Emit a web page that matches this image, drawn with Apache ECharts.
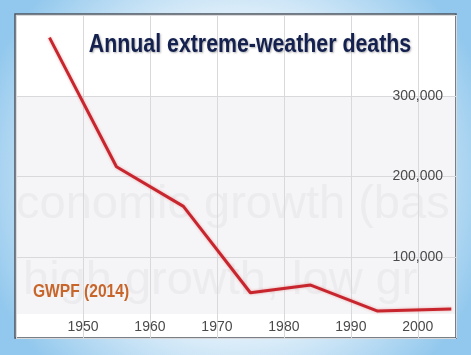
<!DOCTYPE html>
<html>
<head>
<meta charset="utf-8">
<script src="https://cdn.jsdelivr.net/npm/echarts@6/dist/echarts.min.js"></script>
<style>
html,body{margin:0;padding:0;background:#fff;}
#chart{width:471px;height:355px;}
</style>
</head>
<body>
<div id="chart"></div>
<script>
// Data
var years = [1945, 1955, 1965, 1975, 1984, 1994, 2005];
var deaths = [372000, 212000, 163000, 56000, 65600, 33400, 35900];
var xTickLabels = ['1950', '1960', '1970', '1980', '1990', '2000'];
var yTickLabels = ['100,000', '200,000', '300,000'];
var titleText = 'Annual extreme-weather deaths';
var sourceText = 'GWPF (2014)';
var ghostLine1 = 'conomic growth (base';
var ghostLine2 = 'high growth, low grow';

var chart = echarts.init(document.getElementById('chart'), null, {renderer: 'canvas'});

var seriesData = years.map(function (y, i) { return [y, deaths[i]]; });

var sans = "'Liberation Sans', Arial, sans-serif";

var option = {
  animation: false,
  backgroundColor: '#ffffff',
  graphic: [
    {
      type: 'rect', z: -100,
      shape: {x: 0, y: 0, width: 471, height: 355},
      style: {
        fill: {
          type: 'radial', x: 0.5, y: 0.5, r: 0.75,
          colorStops: [
            {offset: 0, color: '#ffffff'},
            {offset: 0.55, color: '#e8f3fb'},
            {offset: 1, color: '#92c8ed'}
          ]
        }
      }
    },
    {
      type: 'rect', z: -90,
      shape: {x: 15, y: 14, width: 441, height: 324},
      style: {fill: '#ffffff', stroke: '#4d5560', lineWidth: 1.5}
    },
    {
      type: 'rect', z: -80,
      shape: {x: 16, y: 96, width: 439, height: 218},
      style: {fill: '#f5f5f7'}
    },
    {
      type: 'text', z: -70, x: 16, y: 182,
      style: {
        text: ghostLine1, fill: '#ececef', font: '47px ' + sans,
        textAlign: 'left', textVerticalAlign: 'alphabetic',
        width: 439, overflow: 'truncate', ellipsis: ''
      }
    },
    {
      type: 'text', z: -70, x: 23, y: 258,
      style: {
        text: ghostLine2, fill: '#ececef', font: '47px ' + sans,
        textAlign: 'left', textVerticalAlign: 'alphabetic',
        width: 432, overflow: 'truncate', ellipsis: ''
      }
    },
    {
      type: 'text', z: 10, x: 250, y: 45, scaleX: 0.82,
      style: {
        text: titleText, fill: '#14214f', font: 'bold 26px ' + sans,
        textAlign: 'center', textVerticalAlign: 'middle',
        textShadowColor: 'rgba(0,0,0,0.3)', textShadowBlur: 2,
        textShadowOffsetX: 1, textShadowOffsetY: 1
      }
    },
    {
      type: 'text', z: 10, x: 33, y: 292, scaleX: 0.82,
      style: {
        text: sourceText, fill: '#c8652b', font: 'bold 19px ' + sans,
        textAlign: 'left', textVerticalAlign: 'middle'
      }
    }
  ],
  grid: {left: 16, right: 15, top: 15, bottom: 17, containLabel: false},
  xAxis: {
    type: 'value',
    min: 1940, max: 2005.7, interval: 10,
    axisLine: {show: false},
    axisTick: {show: false},
    splitLine: {show: true, lineStyle: {color: '#d9d9dc', width: 1}},
    axisLabel: {
      inside: true, margin: 4,
      showMinLabel: false, showMaxLabel: false,
      color: '#4a4a4a', fontSize: 14, fontFamily: sans,
      formatter: function (v) {
        var s = String(Math.round(v));
        return xTickLabels.indexOf(s) >= 0 ? s : '';
      }
    }
  },
  yAxis: {
    type: 'value',
    position: 'right',
    min: 0, max: 400000, interval: 100000,
    axisLine: {show: false},
    axisTick: {show: false},
    splitLine: {show: true, lineStyle: {color: '#d9d9dc', width: 1}},
    axisLabel: {
      inside: true, margin: 13,
      showMinLabel: false, showMaxLabel: false,
      color: '#4a4a4a', fontSize: 14, fontFamily: sans,
      formatter: function (v) {
        var idx = Math.round(v / 100000) - 1;
        return yTickLabels[idx] || '';
      }
    }
  },
  series: [{
    type: 'line',
    data: seriesData,
    symbol: 'none',
    smooth: false,
    z: 5,
    lineStyle: {
      color: '#c8262e', width: 3,
      shadowColor: 'rgba(220,60,60,0.4)', shadowBlur: 3
    }
  }]
};

chart.setOption(option);
</script>
</body>
</html>
